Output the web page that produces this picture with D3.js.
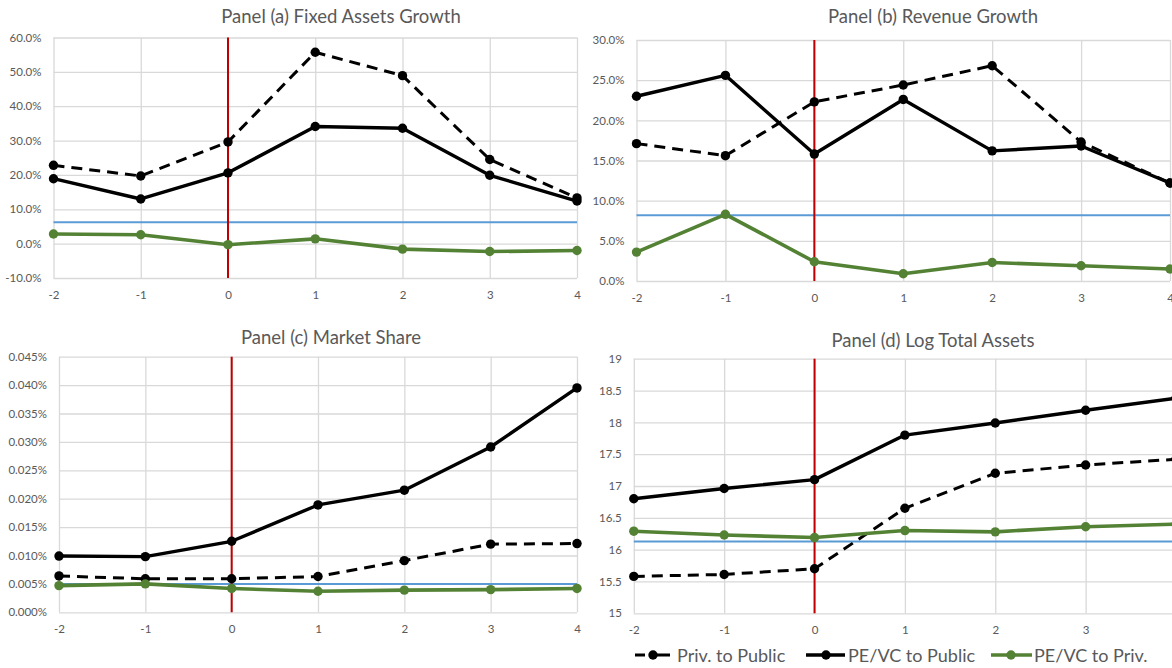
<!DOCTYPE html>
<html>
<head>
<meta charset="utf-8">
<script src="https://cdn.jsdelivr.net/npm/d3@7"></script>
<style>
  html, body { margin: 0; padding: 0; background: #ffffff; }
  svg { display: block; font-family: "Lato", "Open Sans", sans-serif; }
</style>
</head>
<body>
<svg id="chart" width="1172" height="668"></svg>
<script>
// Event time relative to the listing year
const years = [-2, -1, 0, 1, 2, 3, 4];
const seriesNames = ["Priv. to Public", "PE/VC to Public", "PE/VC to Priv."];

// Panel (a) Fixed assets growth
const fixedPrivToPublic = [0.228, 0.197, 0.296, 0.557, 0.489, 0.245, 0.133];
const fixedPevcToPublic = [0.189, 0.130, 0.206, 0.341, 0.336, 0.199, 0.124];
const fixedPevcToPriv   = [0.028, 0.026, -0.003, 0.014, -0.016, -0.023, -0.020];
const fixedBenchmark = 0.062;
const fixedTicks = [-0.1, 0, 0.1, 0.2, 0.3, 0.4, 0.5, 0.6];

// Panel (b) Revenue growth
const revPrivToPublic = [0.171, 0.156, 0.223, 0.244, 0.268, 0.173, 0.122];
const revPevcToPublic = [0.230, 0.256, 0.158, 0.226, 0.162, 0.168, 0.122];
const revPevcToPriv   = [0.036, 0.083, 0.024, 0.009, 0.023, 0.019, 0.015];
const revBenchmark = 0.082;
const revTicks = [0, 0.05, 0.10, 0.15, 0.20, 0.25, 0.30];

// Panel (c) Market share
const sharePrivToPublic = [0.000064, 0.000059, 0.000059, 0.000063, 0.000091, 0.000120, 0.000121];
const sharePevcToPublic = [0.000099, 0.000098, 0.000125, 0.000189, 0.000215, 0.000291, 0.000395];
const sharePevcToPriv   = [0.000047, 0.000050, 0.000042, 0.000037, 0.000039, 0.000040, 0.000042];
const shareBenchmark = 0.000050;
const shareTicks = [0, 0.00005, 0.0001, 0.00015, 0.0002, 0.00025, 0.0003, 0.00035, 0.0004, 0.00045];

// Panel (d) Log total assets
const assetsPrivToPublic = [15.58, 15.61, 15.70, 16.65, 17.20, 17.33, 17.42];
const assetsPevcToPublic = [16.80, 16.96, 17.10, 17.80, 17.99, 18.19, 18.38];
const assetsPevcToPriv   = [16.29, 16.23, 16.19, 16.30, 16.28, 16.36, 16.40];
const assetsBenchmark = 16.13;
const assetsTicks = [15, 15.5, 16, 16.5, 17, 17.5, 18, 18.5, 19];

// Number formats with an ASCII hyphen for negatives
const loc = d3.formatLocale({decimal: ".", thousands: ",", grouping: [3], currency: ["", ""], minus: "-"});
const pct1 = loc.format(".1%");
const pct3 = loc.format(".3%");
const plain = loc.format("");

const TEXT = "#595959";
const GRID = "#d9d9d9";
const RED = "#c00000";
const BLUE = "#5b9bd5";
const GREEN = "#548235";

const styles = [
  {color: "#000000", dash: "11,7", width: 3},
  {color: "#000000", dash: null, width: 3.4},
  {color: GREEN, dash: null, width: 3.6}
];
const MARK_R = 4.7;

const panels = [
  {title: "Panel (a) Fixed Assets Growth",
   data: [fixedPrivToPublic, fixedPevcToPublic, fixedPevcToPriv],
   bench: fixedBenchmark, ticks: fixedTicks, fmt: pct1,
   box: {l: 53.5, r: 577, t: 37.5, b: 278}, tx: 341, ty: 16},
  {title: "Panel (b) Revenue Growth",
   data: [revPrivToPublic, revPevcToPublic, revPevcToPriv],
   bench: revBenchmark, ticks: revTicks, fmt: pct1,
   box: {l: 636.5, r: 1170, t: 40, b: 281}, tx: 933, ty: 16},
  {title: "Panel (c) Market Share",
   data: [sharePrivToPublic, sharePevcToPublic, sharePevcToPriv],
   bench: shareBenchmark, ticks: shareTicks, fmt: pct3,
   box: {l: 59, r: 577, t: 356.7, b: 612.3}, tx: 331, ty: 337},
  {title: "Panel (d) Log Total Assets",
   data: [assetsPrivToPublic, assetsPevcToPublic, assetsPevcToPriv],
   bench: assetsBenchmark, ticks: assetsTicks, fmt: plain,
   box: {l: 633.8, r: 1176, t: 358.7, b: 613.3}, tx: 933, ty: 340}
];

const svg = d3.select("#chart");
svg.append("rect").attr("width", 1172).attr("height", 668).attr("fill", "#ffffff");

panels.forEach(p => {
  const {l, r, t, b} = p.box;
  const x = d3.scaleLinear().domain([d3.min(years), d3.max(years)]).range([l, r]);
  const y = d3.scaleLinear().domain([d3.min(p.ticks), d3.max(p.ticks)]).range([b, t]);
  const g = svg.append("g");

  // horizontal gridlines + y labels
  const yAxis = g.append("g").attr("transform", `translate(${l},0)`)
    .call(d3.axisLeft(y).tickValues(p.ticks).tickFormat(p.fmt)
      .tickSize(-(r - l)).tickPadding(12));
  // vertical gridlines + x labels
  const xAxis = g.append("g").attr("transform", `translate(0,${b})`)
    .call(d3.axisBottom(x).tickValues(years).tickFormat(plain)
      .tickSize(-(b - t)).tickPadding(13));
  [yAxis, xAxis].forEach(a => {
    a.select(".domain").remove();
    a.selectAll(".tick line").attr("stroke", GRID).attr("stroke-width", 1.3);
    a.selectAll(".tick text").attr("fill", TEXT).style("font-size", "11.5px")
      .style("font-family", "Lato, sans-serif");
  });

  // title
  g.append("text").attr("x", p.tx).attr("y", p.ty)
    .attr("text-anchor", "middle").attr("dominant-baseline", "central")
    .attr("fill", TEXT).style("font-size", "18.5px").text(p.title);

  // benchmark level
  g.append("line").attr("x1", l).attr("x2", r)
    .attr("y1", y(p.bench)).attr("y2", y(p.bench))
    .attr("stroke", BLUE).attr("stroke-width", 2);

  // listing-year marker
  g.append("line").attr("x1", x(0)).attr("x2", x(0))
    .attr("y1", t).attr("y2", b)
    .attr("stroke", RED).attr("stroke-width", 2);

  // series
  const line = d3.line().x((d, i) => x(years[i])).y(d => y(d));
  p.data.forEach((vals, si) => {
    const st = styles[si];
    g.append("path").datum(vals).attr("d", line)
      .attr("fill", "none").attr("stroke", st.color)
      .attr("stroke-width", st.width).attr("stroke-linejoin", "round")
      .attr("stroke-dasharray", st.dash);
    g.selectAll(null).data(vals).enter().append("circle")
      .attr("cx", (d, i) => x(years[i])).attr("cy", d => y(d))
      .attr("r", MARK_R).attr("fill", st.color);
  });
});

// legend
const legendItems = [
  {x0: 635, x1: 670, dot: 653, tx: 677, dash: "10,5,30"},
  {x0: 806, x1: 845, dot: 826, tx: 848, dash: null},
  {x0: 991, x1: 1032, dot: 1011, tx: 1034, dash: null}
];
const ly = 655;
const lg = svg.append("g");
legendItems.forEach((it, i) => {
  const st = styles[i];
  lg.append("line").attr("x1", it.x0).attr("x2", it.x1).attr("y1", ly).attr("y2", ly)
    .attr("stroke", st.color).attr("stroke-width", st.width)
    .attr("stroke-dasharray", it.dash);
  lg.append("circle").attr("cx", it.dot).attr("cy", ly).attr("r", MARK_R).attr("fill", st.color);
  lg.append("text").attr("x", it.tx).attr("y", ly).attr("dominant-baseline", "central")
    .attr("fill", TEXT).style("font-size", "18px").text(seriesNames[i]);
});
</script>
</body>
</html>
